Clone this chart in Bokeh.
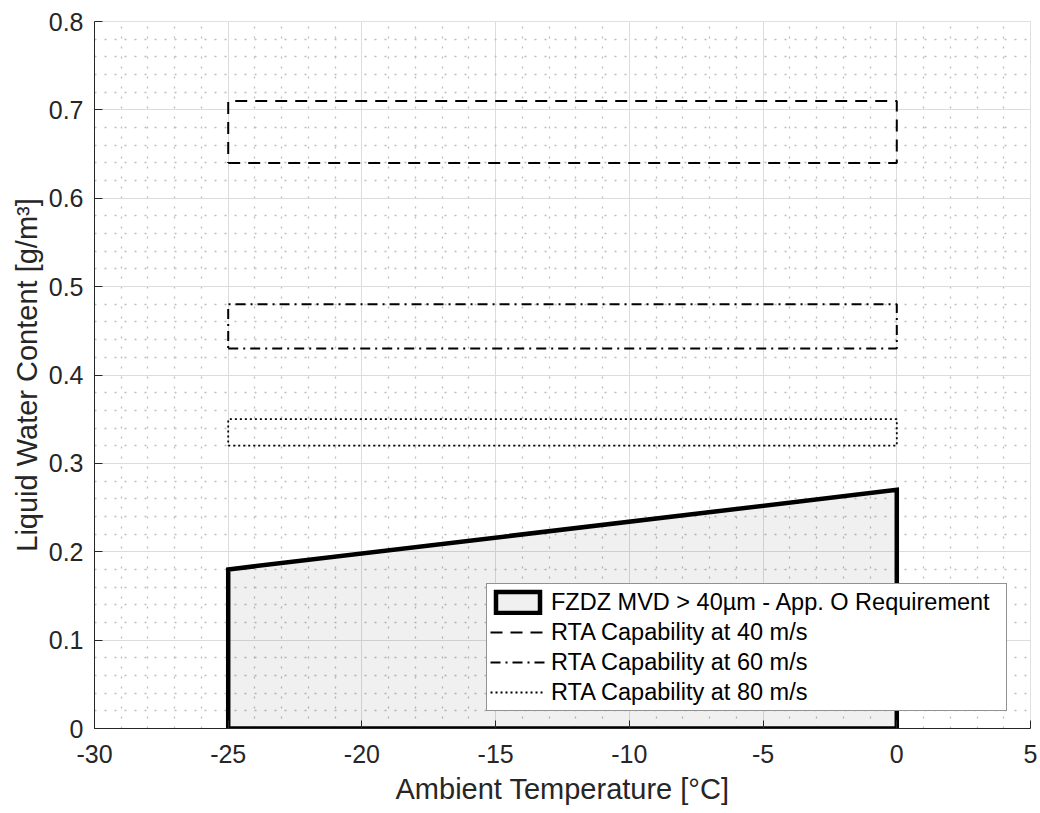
import numpy as np
from bokeh.plotting import figure
from bokeh.models import (FixedTicker, Legend, LegendItem, Range1d,
                          CustomJSTickFormatter)
from bokeh.embed import file_html
from bokeh.resources import INLINE

# ---------------- data ----------------
req_temp = [-25, -25, 0, 0]           # App. O FZDZ envelope (deg C)
req_lwc = [0.0, 0.18, 0.27, 0.0]      # LWC (g/m3)

rta_temp = [-25, 0]                   # RTA capability temperature span
rta_40 = [0.64, 0.71]                 # LWC band at 40 m/s
rta_60 = [0.43, 0.48]                 # LWC band at 60 m/s
rta_80 = [0.32, 0.35]                 # LWC band at 80 m/s

labels = ["FZDZ MVD > 40µm - App. O Requirement",
          "RTA Capability at 40 m/s",
          "RTA Capability at 60 m/s",
          "RTA Capability at 80 m/s"]

x_ticks = [-30, -25, -20, -15, -10, -5, 0, 5]
y_ticks = [0, 0.1, 0.2, 0.3, 0.4, 0.5, 0.6, 0.7, 0.8]
x_minor = [v for v in range(-30, 6) if v not in x_ticks]
y_minor = [round(v, 2) for v in np.arange(0, 0.801, 0.02)
           if min(abs(v - t) for t in y_ticks) > 1e-6]

FONT = "Liberation Sans"
TXT = "#262626"


def band(tspan, lwc):
    t0, t1 = tspan
    lo, hi = lwc
    return [t0, t1, t1, t0, t0], [lo, lo, hi, hi, lo]


p = figure(frame_width=936, frame_height=707,
           min_border_left=94, min_border_right=10,
           min_border_top=21, min_border_bottom=85,
           x_range=Range1d(-30, 5), y_range=Range1d(0, 0.8),
           output_backend="svg", toolbar_location=None,
           background_fill_color="white", border_fill_color="white")

p.outline_line_color = "#dfdfdf"

# grids
for g in (p.xgrid, p.ygrid):
    g.grid_line_color = "#dcdcdc"
    g.grid_line_width = 1
    g.minor_grid_line_color = "#bdbdbd"
    g.minor_grid_line_dash = "2 8"
    g.minor_grid_line_width = 1.3

# axes
p.xaxis.ticker = FixedTicker(ticks=x_ticks, minor_ticks=x_minor)
p.yaxis.ticker = FixedTicker(ticks=y_ticks, minor_ticks=y_minor)
p.xaxis.formatter = CustomJSTickFormatter(code="return String(tick);")
p.yaxis.formatter = CustomJSTickFormatter(code="return String(+tick.toFixed(2));")
p.xaxis.axis_label = "Ambient Temperature [°C]"
p.yaxis.axis_label = "Liquid Water Content [g/m³]"
for ax in (p.xaxis[0], p.yaxis[0]):
    ax.axis_line_color = TXT
    ax.axis_line_width = 1
    ax.major_tick_line_color = TXT
    ax.major_tick_in = 8
    ax.major_tick_out = 0
    ax.minor_tick_in = 0
    ax.minor_tick_out = 0
    ax.major_label_text_font = FONT
    ax.major_label_text_font_size = "25px"
    ax.major_label_text_color = TXT
    ax.axis_label_text_font = FONT
    ax.axis_label_text_font_size = "29px"
    ax.axis_label_text_font_style = "normal"
    ax.axis_label_text_color = TXT
p.xaxis.major_label_standoff = 16
p.xaxis.axis_label_standoff = 7
p.yaxis.major_label_standoff = 11
p.yaxis.axis_label_standoff = 3

# glyphs
r_req = p.patch(req_temp, req_lwc, fill_color="black", fill_alpha=0.06,
                line_color="black", line_width=4.5, line_join="miter")

x40, y40 = band(rta_temp, rta_40)
x60, y60 = band(rta_temp, rta_60)
x80, y80 = band(rta_temp, rta_80)
r40 = p.line(x40, y40, line_color="black", line_width=2, line_dash="12 8")
r60 = p.line(x60, y60, line_color="black", line_width=2, line_dash="10 5 2 5")
r80 = p.line(x80, y80, line_color="black", line_width=1.8, line_dash="2 3")

legend = Legend(items=[LegendItem(label=labels[0], renderers=[r_req]),
                       LegendItem(label=labels[1], renderers=[r40]),
                       LegendItem(label=labels[2], renderers=[r60]),
                       LegendItem(label=labels[3], renderers=[r80])],
                location=(392, 17))
legend.label_text_font = FONT
legend.label_text_font_size = "23.5px"
legend.label_text_color = "black"
legend.border_line_color = TXT
legend.border_line_width = 1
legend.background_fill_color = "white"
legend.background_fill_alpha = 1
legend.padding = 3
legend.margin = 0
legend.spacing = 0
legend.glyph_width = 55
legend.glyph_height = 26
legend.label_height = 30
legend.label_standoff = 6
legend.label_width = 452
p.add_layout(legend, "center")

open("out.html", "w").write(file_html(p, INLINE))
